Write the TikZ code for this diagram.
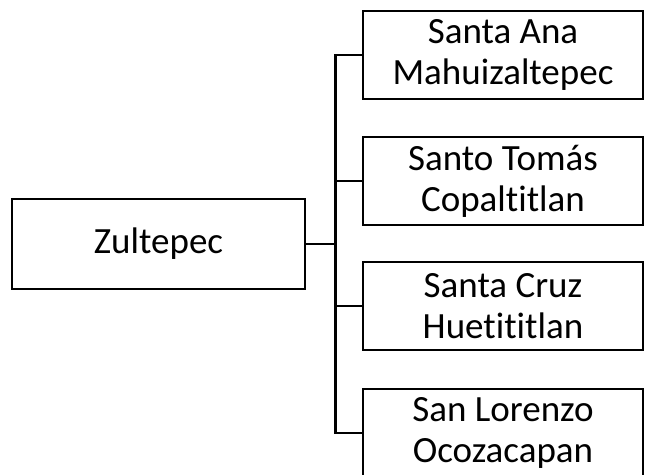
\documentclass[tikz,border=0pt]{standalone}
\usepackage{fontspec}
\setmainfont[Ligatures=NoCommon]{Carlito}
\usetikzlibrary{calc}

\begin{document}
\begin{tikzpicture}[x=1pt,y=-1pt,
    box/.style={draw,line width=2.5pt,inner sep=0pt,align=center,font=\fontsize{37}{41}\selectfont},
    rootbox/.style={box,minimum width=293pt,minimum height=90pt},
    leafbox/.style={box,minimum width=280pt,minimum height=88pt},
    conn/.style={line width=2.5pt}]
    % --- 1. Define Core Parameters ---
    \def\leafX{503}
    \def\gap{29}

    \useasboundingbox (0,0) rectangle (647,474);

    % --- 2. Draw the Boxes ---
    \node[rootbox] (root) at (158.5,244) {Zultepec};
    \node[leafbox] (santaana) at (\leafX,55) {Santa Ana\\Mahuizaltepec};
    \node[leafbox] (santotomas) at (\leafX,181) {Santo Tomás\\Copaltitlan};
    \node[leafbox] (santacruz) at (\leafX,306) {Santa Cruz\\Huetititlan};
    \node[leafbox] (sanlorenzo) at (\leafX,433) {San Lorenzo\\Ocozacapan};

    % --- 3. Draw the Connectors ---
    \coordinate (hub) at ($(root.east)+(\gap,0)$);
    \draw[conn] (root.east) -- (hub);
    \draw[conn] (santaana.west) -| (hub) |- (sanlorenzo.west);
    \draw[conn] (hub |- santotomas.west) -- (santotomas.west);
    \draw[conn] (hub |- santacruz.west) -- (santacruz.west);
\end{tikzpicture}
\end{document}
